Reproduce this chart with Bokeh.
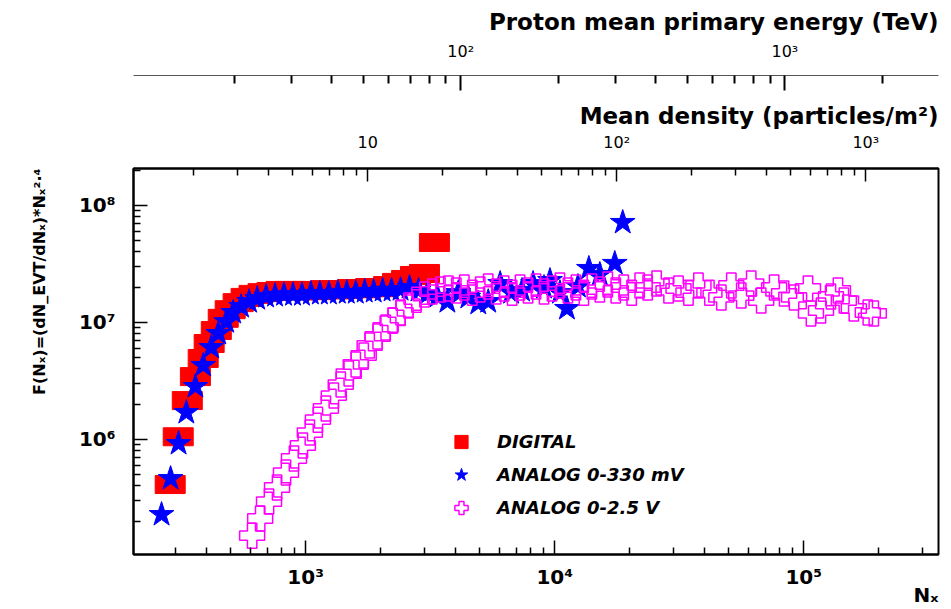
from bokeh.plotting import figure
from bokeh.models import (Range1d, LogScale, LogAxis, FixedTicker, Title,
                          Legend, LegendItem)
from bokeh.embed import file_html
from bokeh.resources import INLINE

# ---------------- data ----------------
digital_nx = [286, 308, 335, 361, 388, 410, 438, 467, 498, 536, 577, 621, 675,
              733, 797, 866, 940, 1021, 1110, 1206, 1310, 1423, 1546, 1680,
              1825, 1983, 2154, 2340, 2543, 2762, 3001, 3290]
digital_f = [4.10e5, 1.05e6, 2.14e6, 3.43e6, 4.90e6, 6.58e6, 8.49e6, 1.08e7,
             1.28e7, 1.47e7, 1.63e7, 1.73e7, 1.79e7, 1.83e7, 1.87e7, 1.87e7,
             1.85e7, 1.87e7, 1.86e7, 1.90e7, 1.89e7, 1.90e7, 1.94e7, 1.93e7,
             1.98e7, 1.97e7, 2.06e7, 2.19e7, 2.32e7, 2.51e7, 2.61e7, 4.80e7]

analog330_nx = [264, 287, 309, 332, 361, 388, 418, 446, 480, 512, 551, 593, 639,
                694, 754, 819, 890, 967, 1050, 1141, 1240, 1347, 1463, 1590,
                1727, 1876, 2038, 2214, 2406, 2614, 2840, 3085, 3382, 3709,
                4104, 4500, 4934, 5410, 6041, 6686, 7398, 8189, 9063, 9577,
                10500, 11200, 12400, 13720, 15180, 17430, 18760]
analog330_f = [2.27e5, 4.61e5, 9.19e5, 1.69e6, 2.82e6, 4.27e6, 6.08e6, 8.01e6,
               1.01e7, 1.21e7, 1.36e7, 1.50e7, 1.59e7, 1.66e7, 1.69e7, 1.72e7,
               1.72e7, 1.72e7, 1.76e7, 1.76e7, 1.76e7, 1.79e7, 1.79e7, 1.79e7,
               1.83e7, 1.83e7, 1.87e7, 1.87e7, 1.90e7, 1.98e7, 1.87e7, 1.76e7,
               1.66e7, 1.50e7, 1.79e7, 1.63e7, 1.45e7, 1.50e7, 2.14e7, 1.79e7,
               1.87e7, 2.14e7, 1.98e7, 2.27e7, 1.79e7, 1.31e7, 2.02e7, 2.88e7,
               2.56e7, 3.18e7, 7.12e7]

analog25_nx = [610, 657, 713, 768, 834, 898, 975, 1040, 1120, 1206, 1298, 1384,
               1490, 1590, 1711, 1808, 1946, 2096, 2235, 2406, 2590, 2787, 3001,
               3230, 3477, 3743, 4029, 4337, 4669, 5025, 5410, 5824, 6268, 6749,
               7263, 7820, 8419, 9063, 9755, 10500, 11300, 12170, 13100, 14100,
               15180, 16340, 17590, 18930, 20380, 21940, 23620, 25660, 28650,
               31420, 34450, 37780, 41810, 46690, 51200, 56130, 61540, 67490,
               76070, 83410, 91460, 104000, 106900, 117300, 128600, 137200,
               144900, 158900, 180800, 191100]
analog25_f = [1.50e5, 2.10e5, 2.93e5, 3.87e5, 5.19e5, 6.84e5, 8.84e5, 1.14e6,
              1.47e6, 1.83e6, 2.36e6, 2.93e6, 3.64e6, 4.35e6, 5.19e6, 6.32e6,
              7.55e6, 9.01e6, 1.03e7, 1.21e7, 1.39e7, 1.56e7, 1.73e7, 1.83e7,
              1.90e7, 1.94e7, 1.87e7, 1.98e7, 1.79e7, 1.90e7, 2.02e7, 1.83e7,
              1.94e7, 1.79e7, 1.98e7, 1.87e7, 2.02e7, 1.83e7, 1.94e7, 2.06e7,
              1.87e7, 1.98e7, 1.79e7, 2.02e7, 1.90e7, 2.10e7, 1.87e7, 1.98e7,
              1.79e7, 2.06e7, 1.98e7, 2.14e7, 1.87e7, 1.94e7, 1.79e7, 2.06e7,
              1.79e7, 1.63e7, 2.06e7, 1.69e7, 2.14e7, 1.53e7, 1.98e7, 1.76e7,
              1.63e7, 1.94e7, 1.19e7, 1.26e7, 1.66e7, 1.87e7, 1.53e7, 1.31e7,
              1.21e7, 1.19e7]

series_labels = ["DIGITAL", "ANALOG 0-330 mV", "ANALOG 0-2.5 V"]

# axis ranges / conversions
nx_range = (203.7, 347600.0)
f_range = (1.035e5, 2.06e8)
density_area = 177.5           # Nx / area -> particles per m^2
energy_range = (9.79, 2978.0)  # TeV

nx_major = [1e3, 1e4, 1e5]
nx_major_labels = ["10³", "10⁴", "10⁵"]
f_major = [1e6, 1e7, 1e8]
f_major_labels = ["10⁶", "10⁷", "10⁸"]
dens_major = [10, 100, 1000]
dens_major_labels = ["10", "10²", "10³"]
en_major = [100, 1000]
en_major_labels = ["10²", "10³"]

y_title = "F(Nₓ)=(dN_EVT/dNₓ)*Nₓ²·⁴"
x_title = "Nₓ"
dens_title = "Mean density (particles/m²)"
en_title = "Proton mean primary energy (TeV)"

FONT = "DejaVu Sans"
RED, BLUE, MAGENTA = "#ff0000", "#0000ff", "#ff00ff"


def minors(lo, hi, decades):
    out = []
    for d in decades:
        for m in range(2, 10):
            v = m * 10 ** d
            if lo < v < hi:
                out.append(v)
    return out


# ---------------- figure ----------------
p = figure(width=950, height=608, x_axis_type="log", y_axis_type="log",
           x_range=Range1d(*nx_range), y_range=Range1d(*f_range),
           output_backend="svg", toolbar_location=None,
           min_border_left=130, min_border_right=12,
           min_border_top=168, min_border_bottom=54)
p.grid.visible = False
p.outline_line_color = "black"
p.outline_line_width = 2
p.background_fill_color = "white"
p.border_fill_color = "white"


def style_axis(ax, bold, size, standoff, tin, tmin):
    ax.major_tick_out = 0
    ax.minor_tick_out = 0
    ax.major_tick_in = tin
    ax.minor_tick_in = tmin
    ax.major_tick_line_color = "black"
    ax.minor_tick_line_color = "black"
    ax.major_tick_line_width = 1.5
    ax.minor_tick_line_width = 1.5
    ax.major_label_text_font = FONT
    ax.major_label_text_font_style = "bold" if bold else "normal"
    ax.major_label_text_font_size = size
    ax.major_label_text_color = "black"
    ax.major_label_standoff = standoff


xa = p.xaxis[0]
xa.ticker = FixedTicker(ticks=nx_major,
                        minor_ticks=minors(nx_range[0], nx_range[1], [2, 3, 4, 5]))
xa.major_label_overrides = dict(zip(nx_major, nx_major_labels))
style_axis(xa, True, "20px", 10, 14, 7)
xa.axis_line_color = "black"
xa.axis_line_width = 2

ya = p.yaxis[0]
ya.ticker = FixedTicker(ticks=f_major,
                        minor_ticks=minors(f_range[0], f_range[1], [5, 6, 7, 8]))
ya.major_label_overrides = dict(zip(f_major, f_major_labels))
style_axis(ya, True, "20px", 18, 14, 7)
ya.axis_line_color = "black"
ya.axis_line_width = 2

# extra top axes
d_lo, d_hi = nx_range[0] / density_area, nx_range[1] / density_area
p.extra_x_ranges = {"density": Range1d(d_lo, d_hi),
                    "energy": Range1d(*energy_range)}
p.extra_x_scales = {"density": LogScale(), "energy": LogScale()}

dens_axis = LogAxis(x_range_name="density",
                    ticker=FixedTicker(ticks=dens_major,
                                       minor_ticks=minors(d_lo, d_hi, [0, 1, 2])))
dens_axis.major_label_overrides = dict(zip(dens_major, dens_major_labels))
style_axis(dens_axis, False, "16px", 17, 13, 7)
dens_axis.axis_line_color = "black"
dens_axis.axis_line_width = 2

en_axis = LogAxis(x_range_name="energy",
                  ticker=FixedTicker(ticks=en_major,
                                     minor_ticks=minors(energy_range[0], energy_range[1], [1, 2, 3])))
en_axis.major_label_overrides = dict(zip(en_major, en_major_labels))
style_axis(en_axis, False, "16px", 15, 15, 8)
en_axis.major_tick_line_width = 2
en_axis.minor_tick_line_width = 2
en_axis.axis_line_color = "#555555"
en_axis.axis_line_width = 1


def make_title(text, size, standoff, align="right", valign="bottom"):
    t = Title(text=text, align=align, vertical_align=valign,
              text_font=FONT, text_font_style="bold",
              text_font_size=size, text_color="black")
    try:
        t.standoff = standoff
    except Exception:
        t.standoff = 0
    return t


# stacking order above the frame (inner -> outer)
p.add_layout(dens_axis, "above")
p.add_layout(make_title(dens_title, "23px", 2), "above")
p.add_layout(make_title(" ", "10px", 11), "above")         # gap
p.add_layout(en_axis, "above")
p.add_layout(make_title(en_title, "23px", 8), "above")

p.add_layout(make_title(y_title, "16px", 54), "left")
p.add_layout(make_title(x_title, "20px", -22), "below")

# ---------------- data glyphs ----------------
r_dig_legend = p.scatter(x=digital_nx, y=digital_f, marker="square", size=13,
                         fill_color=RED, line_color=RED)
p.rect(x=digital_nx, y=digital_f, width=30, height=18,
       width_units="screen", height_units="screen",
       fill_color=RED, line_color=RED)
r_a330 = p.scatter(x=analog330_nx, y=analog330_f, marker="star", size=26,
                   fill_color=BLUE, line_color=BLUE)
r_a25 = p.scatter(x=analog25_nx, y=analog25_f, marker="plus", size=25,
                  fill_alpha=0, line_color=MAGENTA, line_width=1.5)

legend = Legend(items=[LegendItem(label=series_labels[0], renderers=[r_dig_legend]),
                       LegendItem(label=series_labels[1], renderers=[r_a330]),
                       LegendItem(label=series_labels[2], renderers=[r_a25])],
                location=(310, 30))
legend.background_fill_alpha = 0
legend.border_line_alpha = 0
legend.padding = 0
legend.margin = 0
legend.spacing = 0
legend.glyph_width = 36
legend.glyph_height = 33
legend.label_standoff = 18
legend.label_text_font = FONT
legend.label_text_font_style = "bold italic"
legend.label_text_font_size = "18px"
legend.label_text_color = "black"
p.add_layout(legend)

open("out.html", "w").write(file_html(p, INLINE))
